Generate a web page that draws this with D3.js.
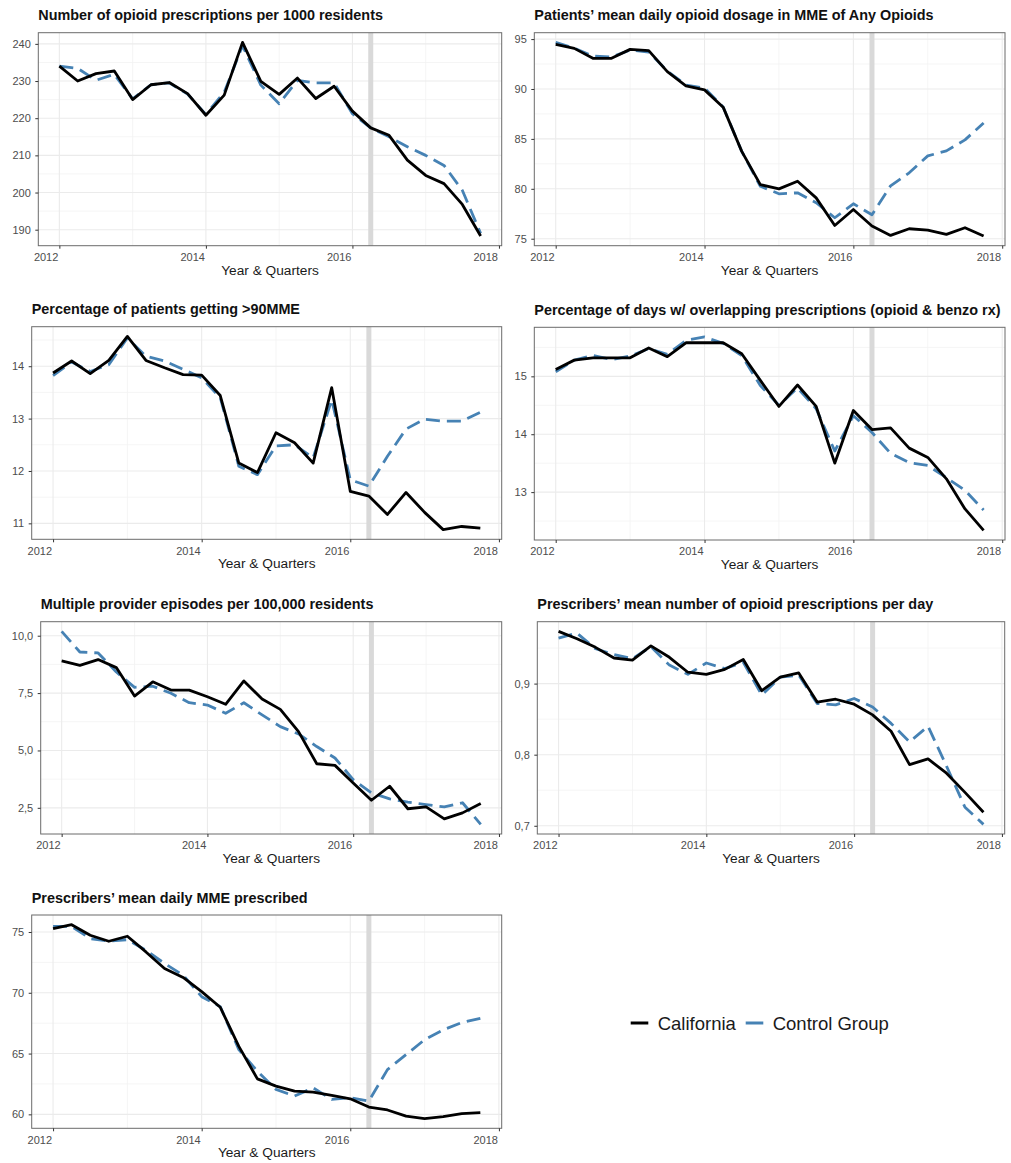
<!DOCTYPE html>
<html>
<head>
<meta charset="utf-8">
<script src="https://cdn.jsdelivr.net/npm/d3@7"></script>
<style>
  html, body { margin: 0; padding: 0; background: #fff; }
  svg { display: block; font-family: "Liberation Sans", Arial, Helvetica, sans-serif; }
</style>
</head>
<body>
<svg id="chart" width="1011" height="1163"></svg>
<script>
// Quarterly observations, 2012 Q1 through 2017 Q4
const quarters = d3.range(24).map(i => 2012 + i / 4);
const policyDate = 2016.25;

const titles = [
  "Number of opioid prescriptions per 1000 residents",
  "Patients\u2019 mean daily opioid dosage in MME of Any Opioids",
  "Percentage of patients getting >90MME",
  "Percentage of days w/ overlapping prescriptions (opioid & benzo rx)",
  "Multiple provider episodes per 100,000 residents",
  "Prescribers\u2019 mean number of opioid prescriptions per day",
  "Prescribers\u2019 mean daily MME prescribed"
];

// California series
const caRxPer1000 = [234.0, 230.0, 232.0, 232.7, 225.0, 229.0, 229.6, 226.6, 220.8, 226.2, 240.4, 229.9,
                     226.4, 230.8, 225.3, 228.6, 221.9, 217.4, 215.4, 208.7, 204.6, 202.4, 196.8, 188.3];
const caMeanMME = [94.47, 94.07, 93.07, 93.07, 93.97, 93.84, 91.74, 90.31, 89.91, 88.18, 83.75, 80.42,
                   79.99, 80.76, 79.09, 76.33, 77.93, 76.27, 75.33, 76.0, 75.87, 75.43, 76.1, 75.27];
const caOver90 = [13.87, 14.10, 13.86, 14.11, 14.57, 14.11, 13.97, 13.84, 13.83, 13.44, 12.15, 11.97,
                  12.73, 12.54, 12.15, 13.59, 11.61, 11.52, 11.17, 11.59, 11.21, 10.88, 10.94, 10.91];
const caOverlap = [15.12, 15.28, 15.32, 15.32, 15.32, 15.49, 15.34, 15.58, 15.58, 15.58, 15.39, 14.93,
                   14.48, 14.85, 14.48, 13.50, 14.41, 14.08, 14.11, 13.76, 13.60, 13.23, 12.71, 12.34];
const caMultiProv = [8.90, 8.71, 8.96, 8.61, 7.37, 7.99, 7.63, 7.63, 7.34, 7.01, 8.03, 7.24,
                     6.79, 5.82, 4.42, 4.35, 3.58, 2.83, 3.44, 2.46, 2.54, 2.02, 2.28, 2.69];
const caPrescPerDay = [0.9735, 0.963, 0.951, 0.936, 0.933, 0.953, 0.937, 0.916, 0.913, 0.920, 0.934, 0.890,
                       0.909, 0.915, 0.874, 0.878, 0.871, 0.856, 0.833, 0.786, 0.794, 0.774, 0.747, 0.719];
const caPrescMME = [75.27, 75.6, 74.73, 74.24, 74.65, 73.36, 72.0, 71.26, 70.09, 68.81, 65.59, 62.92,
                    62.32, 61.91, 61.83, 61.56, 61.28, 60.6, 60.36, 59.86, 59.65, 59.81, 60.06, 60.14];

// Control group series
const ctRxPer1000 = [234.0, 233.4, 230.2, 231.8, 225.2, 229.0, 229.5, 226.5, 221.0, 227.0, 239.5, 228.9,
                     223.9, 230.2, 229.5, 229.5, 221.2, 217.4, 215.0, 212.3, 210.0, 207.3, 200.6, 189.0];
const ctMeanMME = [94.67, 94.1, 93.3, 93.2, 93.9, 93.7, 91.8, 90.4, 90.1, 88.2, 83.75, 80.25,
                   79.5, 79.6, 78.6, 77.1, 78.5, 77.4, 80.3, 81.6, 83.3, 83.8, 84.9, 86.6];
const ctOver90 = [13.82, 14.08, 13.90, 14.03, 14.54, 14.19, 14.10, 13.94, 13.78, 13.40, 12.09, 11.93,
                  12.48, 12.50, 12.25, 13.36, 11.83, 11.71, 12.28, 12.80, 12.99, 12.95, 12.95, 13.12];
const ctOverlap = [15.08, 15.28, 15.36, 15.29, 15.35, 15.48, 15.38, 15.62, 15.68, 15.57, 15.36, 14.84,
                   14.50, 14.80, 14.44, 13.71, 14.32, 14.03, 13.67, 13.51, 13.46, 13.25, 13.03, 12.69];
const ctMultiProv = [10.19, 9.29, 9.25, 8.42, 7.75, 7.80, 7.49, 7.08, 6.98, 6.62, 7.08, 6.55,
                     6.04, 5.72, 5.17, 4.67, 3.73, 3.15, 2.89, 2.75, 2.64, 2.54, 2.72, 1.78];
const ctPrescPerDay = [0.964, 0.971, 0.949, 0.941, 0.935, 0.952, 0.926, 0.913, 0.929, 0.921, 0.930, 0.884,
                       0.909, 0.912, 0.872, 0.870, 0.879, 0.867, 0.844, 0.818, 0.840, 0.784, 0.726, 0.702];
const ctPrescMME = [75.46, 75.46, 74.45, 74.26, 74.37, 73.5, 72.41, 71.45, 69.68, 68.86, 65.32, 63.55,
                    62.05, 61.5, 62.18, 61.23, 61.36, 61.09, 63.68, 64.91, 66.14, 66.95, 67.55, 67.9];

const californiaSeries = [caRxPer1000, caMeanMME, caOver90, caOverlap, caMultiProv, caPrescPerDay, caPrescMME];
const controlSeries = [ctRxPer1000, ctMeanMME, ctOver90, ctOverlap, ctMultiProv, ctPrescPerDay, ctPrescMME];

// Axis breaks
const xTicks = [2012, 2014, 2016, 2018];
const yTicks = [
  [190, 200, 210, 220, 230, 240],
  [75, 80, 85, 90, 95],
  [11, 12, 13, 14],
  [13, 14, 15],
  [2.5, 5.0, 7.5, 10.0],
  [0.7, 0.8, 0.9],
  [60, 65, 70, 75]
];
const yTickLabels = [
  ["190", "200", "210", "220", "230", "240"],
  ["75", "80", "85", "90", "95"],
  ["11", "12", "13", "14"],
  ["13", "14", "15"],
  ["2,5", "5,0", "7,5", "10,0"],
  ["0,7", "0,8", "0,9"],
  ["60", "65", "70", "75"]
];
const xLabel = "Year & Quarters";
const legendLabels = ["California", "Control Group"];

// Panel placement on the page
const panels = [
  { x0: 38.3,  x1: 501.7,  y0: 32.7,  y1: 245.7 },
  { x0: 534.3, x1: 1005,   y0: 32.7,  y1: 245.7 },
  { x0: 31.7,  x1: 501.7,  y0: 326.7, y1: 539.3 },
  { x0: 534.3, x1: 1005,   y0: 327.3, y1: 540 },
  { x0: 40.7,  x1: 501.7,  y0: 621.7, y1: 834 },
  { x0: 537.3, x1: 1004.7, y0: 621.7, y1: 834 },
  { x0: 31.7,  x1: 501.7,  y0: 915,   y1: 1128.3 }
];

const style = {
  caColor: "#000000",
  ctColor: "#4682B4",
  lineWidth: 2.8,
  dash: "14,7",
  grid: "#ebebeb",
  gridMinor: "#f2f2f2",
  border: "#6b6b6b",
  vline: "#d9d9d9",
  tickText: "#4d4d4d"
};

const svg = d3.select("#chart");

function expand(lo, hi, f) {
  const pad = (hi - lo) * f;
  return [lo - pad, hi + pad];
}

function minorBreaks(major, domain) {
  const step = major[1] - major[0];
  const out = [];
  for (let v = major[0] - step / 2; v <= major[major.length - 1] + step / 2 + 1e-9; v += step) {
    if (v >= domain[0] && v <= domain[1]) out.push(v);
  }
  return out;
}

const xDomain = expand(d3.min(quarters), d3.max(quarters), 0.05);

panels.forEach((p, k) => {
  const ca = californiaSeries[k];
  const ct = controlSeries[k];
  const allVals = ca.concat(ct);
  const yDomain = expand(d3.min(allVals), d3.max(allVals), 0.05);

  const x = d3.scaleLinear().domain(xDomain).range([p.x0, p.x1]);
  const y = d3.scaleLinear().domain(yDomain).range([p.y1, p.y0]);

  const g = svg.append("g").attr("class", "panel");

  // minor grid
  const xMinor = minorBreaks(xTicks, xDomain);
  const yMinor = minorBreaks(yTicks[k], yDomain);
  g.selectAll(".xminor").data(xMinor).join("line")
    .attr("x1", d => x(d)).attr("x2", d => x(d))
    .attr("y1", p.y0).attr("y2", p.y1)
    .attr("stroke", style.gridMinor).attr("stroke-width", 0.8);
  g.selectAll(".yminor").data(yMinor).join("line")
    .attr("x1", p.x0).attr("x2", p.x1)
    .attr("y1", d => y(d)).attr("y2", d => y(d))
    .attr("stroke", style.gridMinor).attr("stroke-width", 0.8);

  // major grid
  g.append("g").selectAll("line").data(xTicks.filter(d => d >= xDomain[0] && d <= xDomain[1])).join("line")
    .attr("x1", d => x(d)).attr("x2", d => x(d))
    .attr("y1", p.y0).attr("y2", p.y1)
    .attr("stroke", style.grid).attr("stroke-width", 1.1);
  g.append("g").selectAll("line").data(yTicks[k]).join("line")
    .attr("x1", p.x0).attr("x2", p.x1)
    .attr("y1", d => y(d)).attr("y2", d => y(d))
    .attr("stroke", style.grid).attr("stroke-width", 1.1);

  // policy marker
  g.append("line")
    .attr("x1", x(policyDate)).attr("x2", x(policyDate))
    .attr("y1", p.y0).attr("y2", p.y1)
    .attr("stroke", style.vline).attr("stroke-width", 5);

  const line = d3.line().x((d, i) => x(quarters[i])).y(d => y(d));

  g.append("path").datum(ct)
    .attr("d", line)
    .attr("fill", "none")
    .attr("stroke", style.ctColor)
    .attr("stroke-width", style.lineWidth)
    .attr("stroke-dasharray", style.dash)
    .attr("stroke-linejoin", "round");

  g.append("path").datum(ca)
    .attr("d", line)
    .attr("fill", "none")
    .attr("stroke", style.caColor)
    .attr("stroke-width", style.lineWidth)
    .attr("stroke-linejoin", "round");

  // panel border
  g.append("rect")
    .attr("x", p.x0).attr("y", p.y0)
    .attr("width", p.x1 - p.x0).attr("height", p.y1 - p.y0)
    .attr("fill", "none").attr("stroke", style.border).attr("stroke-width", 1);

  // axes
  const xAxis = d3.axisBottom(x).tickValues(xTicks).tickFormat(d3.format("d"))
    .tickSize(3).tickPadding(4.5);
  const gx = g.append("g").attr("transform", `translate(0,${p.y1})`).call(xAxis);

  const labels = yTickLabels[k];
  const yAxis = d3.axisLeft(y).tickValues(yTicks[k]).tickFormat((d, i) => labels[i])
    .tickSize(3).tickPadding(4.5);
  const gy = g.append("g").attr("transform", `translate(${p.x0},0)`).call(yAxis);

  [gx, gy].forEach(a => {
    a.select(".domain").remove();
    a.selectAll(".tick line").attr("stroke", "#333").attr("stroke-width", 1);
    a.selectAll(".tick text")
      .attr("fill", style.tickText)
      .style("font-size", "11px")
      .style("font-family", "'Liberation Sans', Arial, sans-serif");
  });
  // year labels sit right-justified against their tick
  gx.selectAll(".tick text").attr("text-anchor", "end").attr("x", -1.5);

  // axis title
  g.append("text")
    .attr("x", (p.x0 + p.x1) / 2)
    .attr("y", p.y1 + 29)
    .attr("text-anchor", "middle")
    .attr("fill", "#1a1a1a")
    .style("font-size", "13.7px")
    .text(xLabel);

  // panel title
  g.append("text")
    .attr("x", p.x0)
    .attr("y", p.y0 - 12.5)
    .attr("fill", "#111")
    .style("font-size", "14.4px")
    .style("font-weight", "bold")
    .text(titles[k]);
});

// legend
const legend = svg.append("g").attr("class", "legend");
const legendItems = [
  { label: legendLabels[0], color: style.caColor, x: 630.7, tx: 657.7 },
  { label: legendLabels[1], color: style.ctColor, x: 745.7, tx: 772.7 }
];
legendItems.forEach(it => {
  legend.append("line")
    .attr("x1", it.x).attr("x2", it.x + 17.6)
    .attr("y1", 1023).attr("y2", 1023)
    .attr("stroke", it.color).attr("stroke-width", 3);
  legend.append("text")
    .attr("x", it.tx).attr("y", 1029.8)
    .attr("fill", "#1a1a1a")
    .style("font-size", "18.5px")
    .text(it.label);
});
</script>
</body>
</html>
